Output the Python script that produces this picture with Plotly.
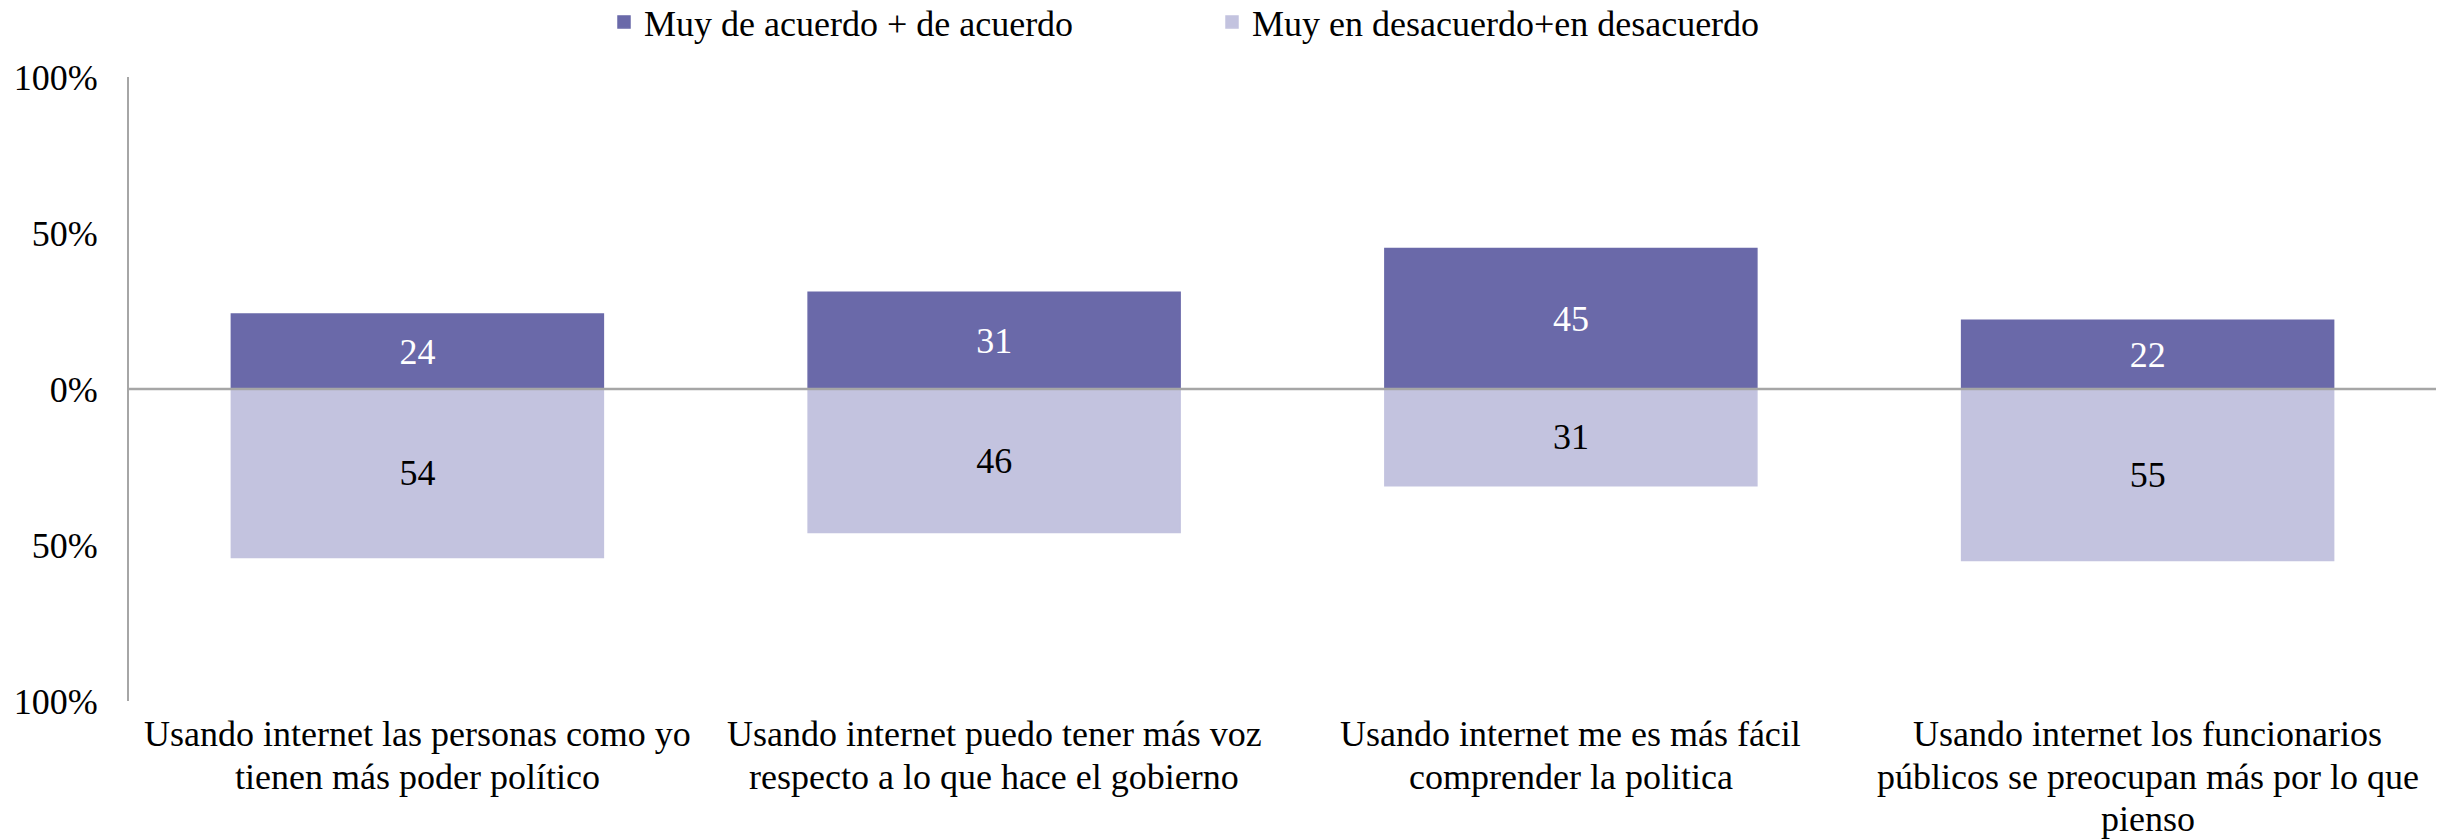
import plotly.graph_objects as go

# Survey statements (x categories), one entry per printed line
category_lines = [
    ["Usando internet las personas como yo", "tienen más poder político"],
    ["Usando internet puedo tener más voz", "respecto a lo que hace el gobierno"],
    ["Usando internet me es más fácil", "comprender la politica"],
    ["Usando internet los funcionarios", "públicos se preocupan más por lo que", "pienso"],
]
categories = [" ".join(lines) for lines in category_lines]

# Percentages of respondents
agree = [24, 31, 45, 22]
disagree = [54, 46, 31, 55]

series_names = ["Muy de acuerdo + de acuerdo", "Muy en desacuerdo+en desacuerdo"]

y_tickvals = [-100, -50, 0, 50, 100]
y_ticktext = ["100%", "50%", "0%", "50%", "100%"]

DARK = "#6A69A9"
LIGHT = "#C3C3DF"
AXIS = "#A6A6A6"
FONT = "'Liberation Serif', 'Times New Roman', 'DejaVu Serif', serif"
FS = 36
LABEL_GAP = 33      # px from plot bottom to first label line centre
LINE_STEP = 42.5    # px between label lines

fig = go.Figure()

fig.add_trace(go.Bar(
    x=categories,
    y=agree,
    name=series_names[0],
    marker=dict(color=DARK, line=dict(width=1.5, color=DARK)),
    text=[str(v) for v in agree],
    textposition="inside",
    insidetextanchor="middle",
    textangle=0,
    textfont=dict(family=FONT, size=FS, color="white"),
    legend="legend",
))

# Disagreement plotted below zero; labels keep the positive value
fig.add_trace(go.Bar(
    x=categories,
    y=[-v for v in disagree],
    name=series_names[1],
    marker=dict(color=LIGHT, line=dict(width=1.5, color=LIGHT)),
    text=[str(v) for v in disagree],
    textposition="inside",
    insidetextanchor="middle",
    textangle=0,
    textfont=dict(family=FONT, size=FS, color="black"),
    legend="legend2",
))

# Zero line drawn over the bars
fig.add_shape(
    type="line", xref="paper", yref="y",
    x0=0, x1=1, y0=0, y1=0,
    line=dict(color=AXIS, width=2.5),
    layer="above",
)

# Category labels, one line at a time for tighter line spacing
for cat, lines in zip(categories, category_lines):
    for j, line in enumerate(lines):
        fig.add_annotation(
            x=cat, xref="x", y=0, yref="paper",
            text=line, showarrow=False,
            xanchor="center", yanchor="middle",
            yshift=-(LABEL_GAP + j * LINE_STEP),
            font=dict(family=FONT, size=FS, color="black"),
        )

legend_common = dict(
    orientation="h",
    xref="container", yref="container",
    xanchor="left", yanchor="middle",
    y=1 - 22 / 840,
    font=dict(family=FONT, size=FS, color="black"),
    bgcolor="rgba(0,0,0,0)",
    borderwidth=0,
    itemclick=False,
)

fig.update_layout(
    width=2450,
    height=840,
    margin=dict(l=129, r=14, t=77, b=139, autoexpand=False),
    paper_bgcolor="white",
    plot_bgcolor="white",
    barmode="relative",
    bargap=0.355,
    font=dict(family=FONT, size=FS, color="black"),
    uniformtext=dict(minsize=FS, mode="show"),
    legend=dict(x=604 / 2450, **legend_common),
    legend2=dict(x=1212 / 2450, **legend_common),
    showlegend=True,
)

fig.update_xaxes(
    showgrid=False,
    showline=False,
    zeroline=False,
    ticks="",
    showticklabels=False,
    automargin=False,
)

fig.update_yaxes(
    range=[-100, 100],
    tickvals=y_tickvals,
    ticktext=y_ticktext,
    showgrid=False,
    zeroline=False,
    showline=True,
    linecolor=AXIS,
    linewidth=2,
    ticks="",
    tickfont=dict(family=FONT, size=FS, color="black"),
    ticklabelstandoff=22,
    automargin=False,
)

fig.write_html("out.html")
